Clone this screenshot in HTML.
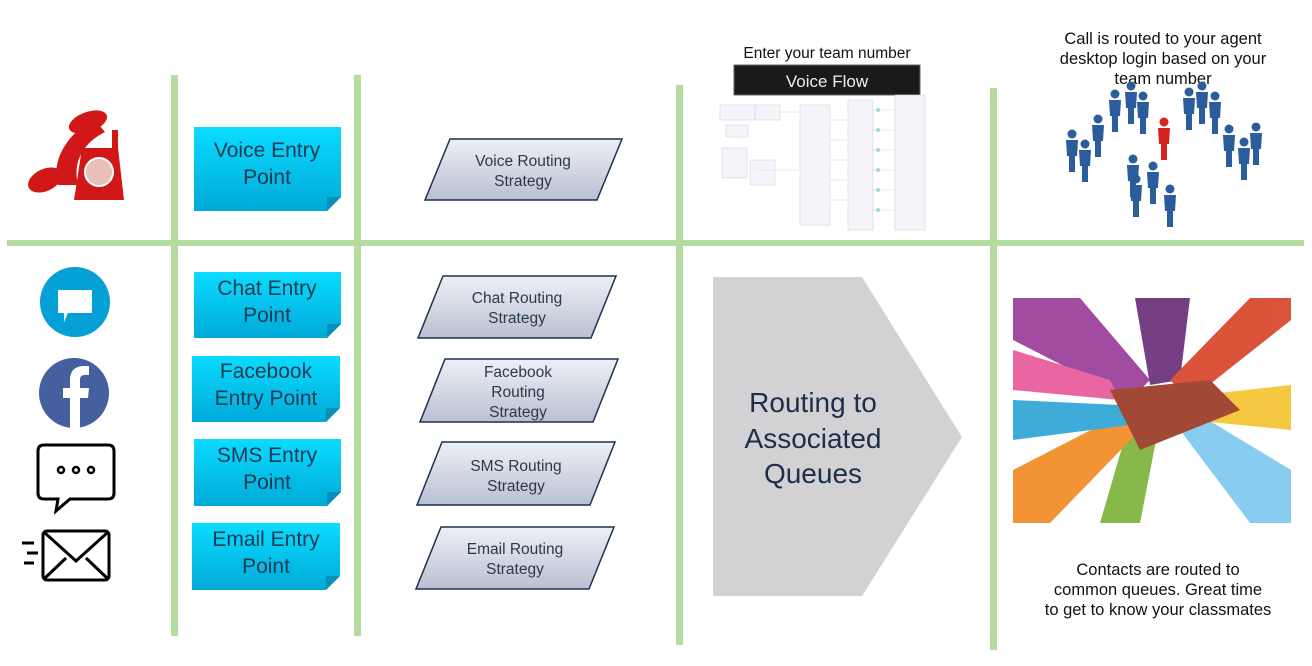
<!DOCTYPE html>
<html><head><meta charset="utf-8"><style>
html,body{margin:0;padding:0;background:#fff;}
svg{display:block;font-family:"Liberation Sans",sans-serif;}
</style></head><body>
<svg width="1312" height="666" viewBox="0 0 1312 666" xmlns="http://www.w3.org/2000/svg">
<defs>
<linearGradient id="cy" x1="0" y1="0" x2="0" y2="1"><stop offset="0" stop-color="#0adcff"/><stop offset="1" stop-color="#00a9d8"/></linearGradient>
<linearGradient id="pg" x1="0" y1="0" x2="0" y2="1"><stop offset="0" stop-color="#eef0f6"/><stop offset="1" stop-color="#b9c0d2"/></linearGradient>
<g id="man"><circle cx="0" cy="-6" r="4.5"/><path d="M-6 0H6L5 16H3V32H-3V16H-5Z"/></g>
</defs>
<g fill="#b4dca0">
<rect x="7" y="240" width="1297" height="6"/>
<rect x="171" y="75" width="7" height="561"/>
<rect x="354" y="75" width="7" height="561"/>
<rect x="676" y="85" width="7" height="560"/>
<rect x="990" y="88" width="7" height="562"/>
</g>
<g font-size="21" fill="#1c3a52" text-anchor="middle">
<g><path d="M194 127H341V197L327 211H194Z" fill="url(#cy)"/><path d="M327 211L341 197H327Z" fill="#0890b8"/>
<text x="267" y="157">Voice Entry</text><text x="267" y="184">Point</text></g>
<g><path d="M194 272H341V324L327 338H194Z" fill="url(#cy)"/><path d="M327 338L341 324H327Z" fill="#0890b8"/>
<text x="267" y="295">Chat Entry</text><text x="267" y="322">Point</text></g>
<g><path d="M192 356H340V408L326 422H192Z" fill="url(#cy)"/><path d="M326 422L340 408H326Z" fill="#0890b8"/>
<text x="266" y="378">Facebook</text><text x="266" y="405">Entry Point</text></g>
<g><path d="M194 439H341V492L327 506H194Z" fill="url(#cy)"/><path d="M327 506L341 492H327Z" fill="#0890b8"/>
<text x="267" y="462">SMS Entry</text><text x="267" y="489">Point</text></g>
<g><path d="M192 523H340V576L326 590H192Z" fill="url(#cy)"/><path d="M326 590L340 576H326Z" fill="#0890b8"/>
<text x="266" y="546">Email Entry</text><text x="266" y="573">Point</text></g>
</g>
<g fill="url(#pg)" stroke="#1d3050" stroke-width="1.5">
<path d="M450 139H622L597 200H425Z"/>
<path d="M443 276H616L591 338H418Z"/>
<path d="M445 359H618L593 422H420Z"/>
<path d="M442 442H615L590 505H417Z"/>
<path d="M441 527H614L589 589H416Z"/>
</g>
<g font-size="15.5" fill="#2a3a4a" text-anchor="middle">
<text x="523" y="166">Voice Routing</text><text x="523" y="186">Strategy</text>
<text x="517" y="303">Chat  Routing</text><text x="517" y="323">Strategy</text>
<text x="518" y="377">Facebook</text><text x="518" y="397">Routing</text><text x="518" y="417">Strategy</text>
<text x="516" y="471">SMS Routing</text><text x="516" y="491">Strategy</text>
<text x="515" y="554">Email Routing</text><text x="515" y="574">Strategy</text>
</g>
<path d="M713 277H862L962 437L862 596H713Z" fill="#d2d2d4"/>
<g font-size="28" fill="#1c2e4a" text-anchor="middle">
<text x="813" y="412">Routing to</text><text x="813" y="448">Associated</text><text x="813" y="483">Queues</text>
</g>
<text x="827" y="58" font-size="15.5" fill="#111" text-anchor="middle">Enter your team number</text>
<rect x="734" y="65" width="186" height="30" fill="#1a1a1a" stroke="#666"/>
<text x="827" y="87" font-size="17" fill="#eee" text-anchor="middle">Voice Flow</text>
<g fill="#f6f3fa" stroke="#d4d4d4" stroke-width="0.6">
<rect x="720" y="105" width="35" height="15"/><rect x="755" y="105" width="25" height="15"/><rect x="726" y="125" width="22" height="12"/>
<rect x="722" y="148" width="25" height="30"/><rect x="750" y="160" width="25" height="25"/><rect x="800" y="105" width="30" height="120"/>
<rect x="848" y="100" width="25" height="130"/><rect x="895" y="95" width="30" height="135"/>
</g>
<g stroke="#e4e4e4" stroke-width="0.8">
<path d="M755 170H800M780 112H800M830 120H848M830 140H848M830 160H848M830 180H848M830 200H848M873 110H895M873 130H895M873 150H895M873 170H895M873 190H895M873 210H895"/>
</g>
<g fill="#9fdccb"><circle cx="878" cy="110" r="2"/><circle cx="878" cy="130" r="2"/><circle cx="878" cy="150" r="2"/><circle cx="878" cy="170" r="2"/><circle cx="878" cy="190" r="2"/><circle cx="878" cy="210" r="2"/></g>
<g font-size="16.5" fill="#111" text-anchor="middle">
<text x="1163" y="44">Call is routed to your agent</text><text x="1163" y="64">desktop login based on your</text><text x="1163" y="84">team number</text>
</g>
<g fill="#2b5d9c">
<use href="#man" x="1072" y="140"/><use href="#man" x="1085" y="150"/><use href="#man" x="1098" y="125"/><use href="#man" x="1115" y="100"/><use href="#man" x="1131" y="92"/><use href="#man" x="1143" y="102"/>
<use href="#man" x="1189" y="98"/><use href="#man" x="1202" y="92"/><use href="#man" x="1215" y="102"/>
<use href="#man" x="1229" y="135"/><use href="#man" x="1244" y="148"/><use href="#man" x="1256" y="133"/>
<use href="#man" x="1136" y="185"/><use href="#man" x="1153" y="172"/><use href="#man" x="1170" y="195"/><use href="#man" x="1133" y="165"/>
</g>
<use href="#man" x="1164" y="128" fill="#d8221f"/>
<g opacity="0.92">
<path d="M1013 298H1080L1150 380L1130 400L1013 340Z" fill="#9b3d9a"/>
<path d="M1135 298H1190L1180 380L1150 385Z" fill="#6b2f7a"/>
<path d="M1250 298H1291V320L1190 400L1170 380Z" fill="#d8442a"/>
<path d="M1291 385V430L1190 420L1200 395Z" fill="#f6c431"/>
<path d="M1291 470V523H1250L1180 430L1200 415Z" fill="#7ec8ee"/>
<path d="M1100 523L1130 420H1160L1140 523Z" fill="#7fb33b"/>
<path d="M1013 470V523H1050L1140 430L1120 415Z" fill="#f18a24"/>
<path d="M1013 400V440L1130 425L1120 405Z" fill="#2ea4d6"/>
<path d="M1013 350V390L1120 400L1110 380Z" fill="#e85a9b"/>
<path d="M1110 390L1210 380L1240 410L1140 450Z" fill="#9a3a24"/>
</g>
<g font-size="16.5" fill="#111" text-anchor="middle">
<text x="1158" y="575">Contacts are routed to</text><text x="1158" y="595">common queues.  Great time</text><text x="1158" y="615">to get to know your classmates</text>
</g>
<g fill="#d01818">
<path d="M58 185C50 160 70 130 95 120L105 132C85 142 72 160 78 185Z"/>
<ellipse cx="45" cy="180" rx="18" ry="11" transform="rotate(-25 45 180)"/>
<ellipse cx="88" cy="122" rx="20" ry="10" transform="rotate(-20 88 122)"/>
<path d="M82 148H118L124 200H74Z"/>
<rect x="112" y="130" width="6" height="20"/>
</g>
<circle cx="99" cy="172" r="14" fill="#e8c0b8" stroke="#fff" stroke-width="2"/>
<circle cx="75" cy="302" r="35" fill="#04a0d6"/>
<path d="M58 290H92V313H68L64 322V313H58Z" fill="#fff"/>
<circle cx="74" cy="393" r="35" fill="#44609e"/>
<path d="M70 428V398H63V388H70V380C70 370 76 366 84 366H89V375H85C81 375 80 377 80 380V388H89L88 398H80V428Z" fill="#fff"/>
<path d="M44 445H108Q114 445 114 451V493Q114 499 108 499H70L56 511L58 499H44Q38 499 38 493V451Q38 445 44 445Z" fill="none" stroke="#000" stroke-width="3"/>
<g fill="none" stroke="#000" stroke-width="2.5"><circle cx="61" cy="470" r="3"/><circle cx="76" cy="470" r="3"/><circle cx="91" cy="470" r="3"/></g>
<g fill="none" stroke="#000" stroke-width="3">
<rect x="43" y="531" width="66" height="49" rx="4"/>
<path d="M45 533L76 561L107 533M45 578L66 558M107 578L86 558"/>
<path d="M22 543H34M27 553H38M24 563H34"/>
</g>
</svg>
</body></html>
